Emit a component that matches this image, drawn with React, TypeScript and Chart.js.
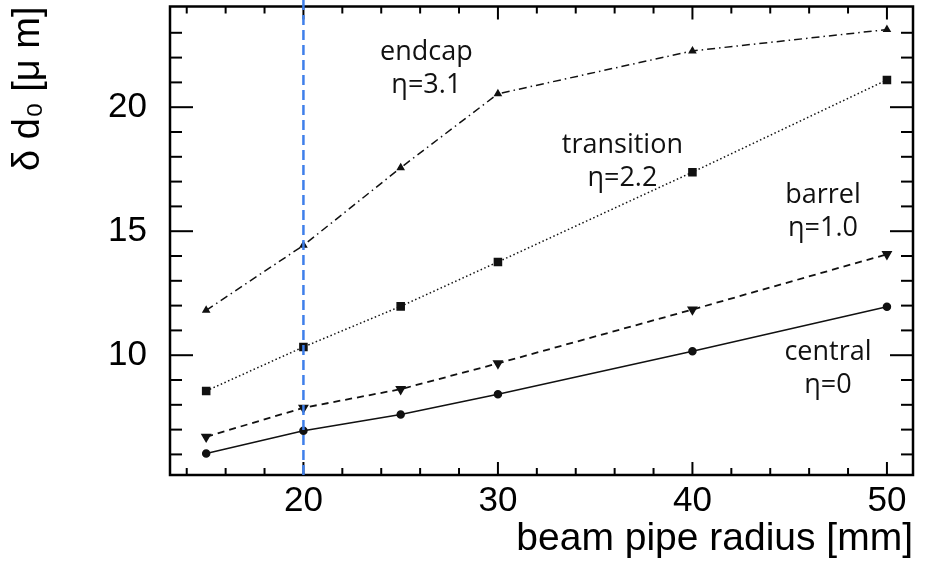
import React, { useEffect, useRef } from "react";
import { Chart, registerables } from "chart.js";

Chart.register(...registerables);

// ---- data ----
const radii = [15, 20, 25, 30, 40, 50];
const central = [6.04, 6.95, 7.61, 8.43, 10.16, 11.95];
const barrel = [6.71, 7.88, 8.63, 9.67, 11.84, 14.07];
const transition = [8.56, 10.33, 11.97, 13.76, 17.38, 21.1];
const endcap = [11.81, 14.43, 17.56, 20.54, 22.27, 23.13];

const xTickValues = [20, 30, 40, 50];
const yTickValues = [10, 15, 20];
const markerRadius = 20;

const labelLines = [
  ["endcap", "η=3.1"],
  ["transition", "η=2.2"],
  ["barrel", "η=1.0"],
  ["central", "η=0"],
];
const labelAnchorX = [26.32, 36.4, 46.71, 46.97];
const labelAnchorY = [21.92, 18.14, 16.12, 9.8];

const X_MIN = 13.14;
const X_MAX = 51.34;
const Y_MIN = 5.17;
const Y_MAX = 24.06;

const toPoints = (ys: number[]) => radii.map((r, i) => ({ x: r, y: ys[i] }));

const framePlugin = {
  id: "frameTicks",
  beforeDatasetsDraw(chart: any) {
    const { ctx, chartArea: a, scales } = chart;
    const x = scales.x;
    const y = scales.y;
    ctx.save();
    ctx.strokeStyle = "#000";
    ctx.lineWidth = 2;
    ctx.setLineDash([]);
    const seg = (x1: number, y1: number, x2: number, y2: number) => {
      ctx.beginPath();
      ctx.moveTo(x1, y1);
      ctx.lineTo(x2, y2);
      ctx.stroke();
    };
    for (let v = Math.ceil(x.min / 2) * 2; v <= x.max; v += 2) {
      const px = x.getPixelForValue(v);
      if (px < a.left + 3 || px > a.right - 3) continue;
      const len = v % 10 === 0 ? 13 : 7;
      seg(px, a.bottom, px, a.bottom - len);
      seg(px, a.top, px, a.top + len);
    }
    for (let v = Math.ceil(y.min); v <= y.max; v += 1) {
      const py = y.getPixelForValue(v);
      if (py < a.top + 3 || py > a.bottom - 3) continue;
      const len = v % 5 === 0 ? 23 : 12;
      seg(a.left, py, a.left + len, py);
      seg(a.right, py, a.right - len, py);
    }
    ctx.lineWidth = 2.5;
    ctx.strokeRect(a.left, a.top, a.right - a.left, a.bottom - a.top);
    ctx.restore();
  },
  afterDatasetsDraw(chart: any) {
    const { ctx, chartArea: a, scales } = chart;
    const x = scales.x;
    const y = scales.y;
    ctx.save();
    // blue reference line
    const px = x.getPixelForValue(markerRadius);
    ctx.strokeStyle = "#3f7fea";
    ctx.lineWidth = 2.5;
    ctx.setLineDash([10, 5]);
    ctx.beginPath();
    ctx.moveTo(px, 0);
    ctx.lineTo(px, a.bottom);
    ctx.stroke();
    ctx.setLineDash([]);
    // annotations
    ctx.fillStyle = "#111";
    ctx.font = '27px "Open Sans"';
    ctx.textAlign = "center";
    ctx.textBaseline = "alphabetic";
    labelLines.forEach((lines, i) => {
      const lx = x.getPixelForValue(labelAnchorX[i]);
      const ly = y.getPixelForValue(labelAnchorY[i]);
      lines.forEach((t, j) => ctx.fillText(t, lx, ly + j * 33));
    });
    ctx.restore();
  },
};

export default function App() {
  const ref = useRef<HTMLCanvasElement>(null);
  useEffect(() => {
    if (!ref.current) return;
    const lineColor = "#111";
    const chart = new Chart(ref.current, {
      type: "line",
      data: {
        datasets: [
          {
            label: "endcap η=3.1",
            data: toPoints(endcap),
            borderColor: lineColor,
            backgroundColor: lineColor,
            borderWidth: 1.5,
            borderDash: [8, 4, 1.5, 4],
            pointStyle: "triangle",
            pointRadius: 3.5,
          },
          {
            label: "transition η=2.2",
            data: toPoints(transition),
            borderColor: lineColor,
            backgroundColor: lineColor,
            borderWidth: 1.5,
            borderDash: [1.5, 2.5],
            pointStyle: "rect",
            pointRadius: 5,
          },
          {
            label: "barrel η=1.0",
            data: toPoints(barrel),
            borderColor: lineColor,
            backgroundColor: lineColor,
            borderWidth: 1.8,
            borderDash: [7, 5],
            pointStyle: "triangle",
            pointRotation: 180,
            pointRadius: 4.5,
          },
          {
            label: "central η=0",
            data: toPoints(central),
            borderColor: lineColor,
            backgroundColor: lineColor,
            borderWidth: 1.5,
            pointStyle: "circle",
            pointRadius: 3.5,
          },
        ],
      },
      options: {
        responsive: false,
        animation: false,
        devicePixelRatio: 1,
        layout: { padding: { top: 6, right: 17, left: 0, bottom: 0 } },
        plugins: { legend: { display: false }, tooltip: { enabled: false } },
        elements: { line: { tension: 0, fill: false }, point: { borderWidth: 0 } },
        scales: {
          x: {
            type: "linear",
            min: X_MIN,
            max: X_MAX,
            grid: { display: false },
            border: { display: false },
            afterBuildTicks: (s: any) => {
              s.ticks = xTickValues.map((v) => ({ value: v }));
            },
            afterFit: (s: any) => {
              s.height = 90;
              s.paddingLeft = 0;
              s.paddingRight = 0;
            },
            ticks: {
              color: "#000",
              padding: -3,
              maxRotation: 0,
              font: { family: "Liberation Sans", size: 35 },
              callback: (v: any) => String(v),
            },
            title: {
              display: true,
              text: "beam pipe radius [mm]",
              align: "end",
              color: "#000",
              padding: { top: 0, bottom: 2 },
              font: { family: "Liberation Sans", size: 39 },
            },
          },
          y: {
            type: "linear",
            min: Y_MIN,
            max: Y_MAX,
            grid: { display: false },
            border: { display: false },
            afterBuildTicks: (s: any) => {
              s.ticks = yTickValues.map((v) => ({ value: v }));
            },
            afterFit: (s: any) => {
              s.width = 170;
              s.paddingTop = 0;
              s.paddingBottom = 0;
            },
            ticks: {
              color: "#000",
              padding: 15,
              font: { family: "Liberation Sans", size: 35 },
              callback: (v: any) => String(v),
            },
            title: {
              display: true,
              text: "δ d₀ [μ m]",
              align: "end",
              color: "#000",
              padding: { top: 6, bottom: 0 },
              font: { family: "Liberation Sans", size: 38 },
            },
          },
        },
      },
      plugins: [framePlugin],
    });
    return () => chart.destroy();
  }, []);
  return (
    <div style={{ position: "fixed", left: 0, top: 0, width: 930, height: 565, background: "#fff" }}>
      <canvas ref={ref} width={930} height={565} style={{ width: 930, height: 565, display: "block" }} />
    </div>
  );
}
